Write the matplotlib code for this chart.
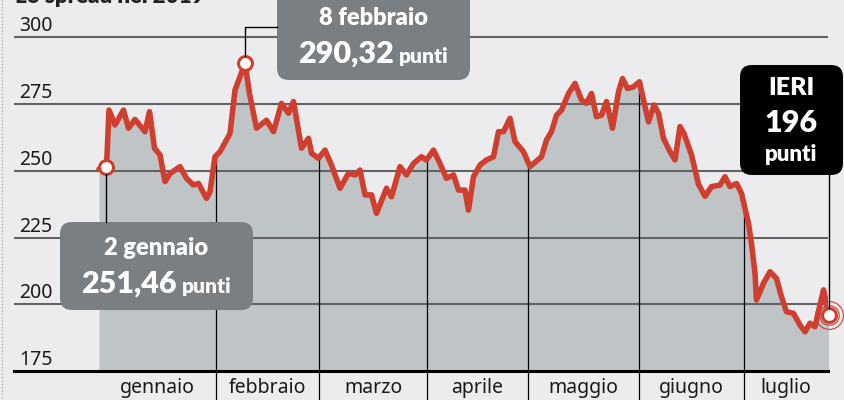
import matplotlib
matplotlib.use('Agg')
import matplotlib.pyplot as plt
from matplotlib.patches import FancyBboxPatch

# ---------------- data ----------------
sessions = [0, 1.5, 2, 3.2, 4.9, 5.9, 7.2, 9.2, 10.1, 11.1, 12.2, 13.2, 14.2, 16.2, 17.5,
            18.9, 19.9, 21.5, 22.2, 23.2, 24.2, 26.2, 27.2, 29.2, 30.1, 31.5, 33.5, 34.9,
            36.5, 37.9, 38.9, 40.5, 41.9, 42.5, 43.9, 45.2, 46.5, 48.2, 49.9, 51.2, 52.2,
            53.2, 54.5, 55.5, 57.5, 58.5, 60.2, 61.5, 62.9, 64.5, 65.5, 66.9, 68.2, 69.5,
            70.9, 71.9, 73.2, 73.9, 74.9, 76.2, 77.5, 78.9, 79.9, 80.9, 82.2, 83.2, 84.9,
            86.2, 88.5, 89.5, 90.5, 91.5, 92.5, 93.9, 95.2, 96.5, 97.5, 98.5, 99.5, 100.5,
            101.5, 102.7, 103.9, 104.7, 105.7, 106.9, 108.1, 108.9, 109.9, 111, 111.9,
            112.9, 114.2, 115.2, 116.2, 117, 118.5, 119.9, 121.2, 122.5, 124.2, 125.2,
            126.2, 127.5, 128.5, 129.9, 130.5, 131.2, 131.5, 132.9, 134.2, 135.5, 136.5,
            137.5, 138.9, 140.2, 141.2, 142.2, 143.2, 144.9, 146]
spread = [250.7, 251.46, 272.8, 267.2, 272.8, 266, 269.3, 264.7, 272.2, 258.5, 256, 246,
          249, 251.6, 247.2, 244.7, 245.3, 239.7, 242.2, 255.3, 257.2, 264, 280.3, 290.32,
          279, 266, 269, 264.7, 275.3, 271.6, 276, 258.5, 262.2, 256.6, 254.7, 257.8, 252.2,
          243.5, 249.1, 248.5, 250.3, 241, 241, 234.1, 243.5, 240.3, 251.6, 248.5, 252.8,
          255.3, 254.1, 257.8, 252.8, 247.2, 248.5, 242.8, 242.8, 235.3, 247.8, 252.2,
          254.1, 255.3, 264.7, 264.7, 269.7, 261, 257.2, 251.6, 255.3, 261.6, 264.7, 270.9,
          272.8, 279, 282.8, 276.6, 275.3, 279, 270.3, 270.9, 276, 266, 279.6, 284.6, 280.9,
          281.5, 283.4, 276.6, 268.4, 274.7, 271.6, 262.2, 257.2, 254.1, 266.6, 264, 256,
          245, 240.5, 244.1, 244.7, 247.8, 244.1, 245.3, 241.6, 230.3, 222.8, 211.6, 201.6,
          207.9, 212.2, 209.7, 202.8, 197.2, 196.6, 192.2, 189.7, 192.9, 191.6, 205.4, 196]
month_names = ['gennaio', 'febbraio', 'marzo', 'aprile', 'maggio', 'giugno', 'luglio']
month_edges = [0, 23.4, 44, 65.6, 85.8, 108, 129, 145.8]
y_ticks = [175, 200, 225, 250, 275, 300]

# ---------------- style ----------------
BG = '#ececee'
FILL = '#bfc4c6'
RED = '#cf3f30'
GRID = '#636363'
BOXGRAY = '#7a7f84'
REG = ['Noto Sans', 'DejaVu Sans']
BF = ['Lato', 'DejaVu Sans']
BW = 'heavy'

W, H = 844, 400
fig = plt.figure(figsize=(W / 100, H / 100), dpi=100, facecolor=BG)
ax = fig.add_axes([14 / W, 29 / H, 814 / W, 371 / H])
ax.set_facecolor('none')
ax.set_xlim(-17, 145.8)
ax.set_ylim(175, 314.05)
ax.axis('off')

fill = ax.fill_between(sessions, spread, 175, color=FILL, lw=0, zorder=1)

for t in y_ticks[1:]:
    ax.axhline(t, color=GRID, lw=1.5, zorder=2)
ax.axhline(175, color='black', lw=2.2, zorder=3, clip_on=False)

vl = ax.vlines(month_edges[1:-1], 175, 314, color='black', lw=0.9, zorder=2.5)
vl.set_clip_path(fill.get_paths()[0], ax.transData)
ax.vlines(month_edges[1:-1], -29 / 371, 0, transform=ax.get_xaxis_transform(),
          color='black', lw=0.9, clip_on=False, zorder=2.5)

for t in y_ticks:
    ax.annotate(str(t), xy=(0, t), xycoords=('axes fraction', 'data'),
                xytext=(5, 6), textcoords='offset pixels', ha='left', va='baseline',
                fontsize=14, color='#1a1a1a', family=REG)

for i, name in enumerate(month_names):
    cx = (month_edges[i] + month_edges[i + 1]) / 2
    ax.annotate(name, xy=(cx, 175), xycoords='data', xytext=(0, -22),
                textcoords='offset pixels', ha='center', va='baseline',
                fontsize=14, color='#1a1a1a', family=REG, annotation_clip=False)

ax.plot(sessions, spread, color=RED, lw=4.0, solid_joinstyle='round',
        solid_capstyle='round', zorder=4)

i_peak = spread.index(max(spread))
for i in (1, i_peak, len(spread) - 1):
    ax.plot(sessions[i], spread[i], 'o', ms=10, mfc='white', mec=RED, mew=2.2,
            zorder=6, clip_on=False)
for ms in (14, 20):
    ax.plot(sessions[-1], spread[-1], 'o', ms=ms, mfc='none', mec=RED, mew=0.8,
            zorder=5, clip_on=False)

# ---------------- overlay (pixel space) ----------------
ov = fig.add_axes([0, 0, 1, 1], zorder=10)
ov.set_xlim(0, W)
ov.set_ylim(H, 0)
ov.axis('off')
ov.patch.set_alpha(0)


def to_ov(x, y):
    return ov.transData.inverted().transform(ax.transData.transform((x, y)))


# title (cut off at top, as in the reference)
ov.text(15, 3, 'Lo spread nel 2019', fontsize=16, fontweight=BW, color='#222222',
        ha='left', va='baseline', family=BF)
# dotted left border
ov.plot([1.5, 1.5], [0, H], color='#9a9a9a', lw=0.8, ls=(0, (1, 2)))

# boxes
ov.add_patch(FancyBboxPatch((277, -14), 193, 94, boxstyle='round,pad=0,rounding_size=12',
                            fc=BOXGRAY, ec='none'))
ov.add_patch(FancyBboxPatch((60, 222), 193, 88, boxstyle='round,pad=0,rounding_size=12',
                            fc=BOXGRAY, ec='none'))
ov.add_patch(FancyBboxPatch((740, 65), 103, 110, boxstyle='round,pad=0,rounding_size=12',
                            fc='black', ec='none'))

# connectors
px, py = to_ov(sessions[i_peak], spread[i_peak])
ov.plot([px, px, 277], [py - 7, 27, 27], color='black', lw=1, zorder=1)
px, py = to_ov(sessions[1], spread[1])
ov.plot([px, px], [py + 7, 222], color='black', lw=1, zorder=1)
px, py = to_ov(sessions[-1], spread[-1])
ov.plot([px, px], [py - 7, 175], color='black', lw=1, zorder=1)

renderer = fig.canvas.get_renderer()


def two_part(cx, by, big, small, fs_big, fs_small, gap=5):
    t1 = ov.text(0, by, big, fontsize=fs_big, fontweight=BW, color='white',
                 ha='left', va='baseline', family=BF)
    t2 = ov.text(0, by, small, fontsize=fs_small, fontweight=BW, color='white',
                 ha='left', va='baseline', family=BF)
    w1 = t1.get_window_extent(renderer).width
    w2 = t2.get_window_extent(renderer).width
    x0 = cx - (w1 + gap + w2) / 2
    t1.set_x(x0)
    t2.set_x(x0 + w1 + gap)


ov.text(373.5, 25, '8 febbraio', fontsize=17, fontweight=BW, color='white',
        ha='center', va='baseline', family=BF)
two_part(373.5, 63, '290,32', 'punti', 22, 15)
ov.text(156.5, 255, '2 gennaio', fontsize=17, fontweight=BW, color='white',
        ha='center', va='baseline', family=BF)
two_part(156.5, 293, '251,46', 'punti', 22, 15)
ov.text(791.5, 95, 'IERI', fontsize=18, fontweight=BW, color='white',
        ha='center', va='baseline', family=BF)
ov.text(791.5, 132, '196', fontsize=22, fontweight=BW, color='white',
        ha='center', va='baseline', family=BF)
ov.text(791.5, 161, 'punti', fontsize=16, fontweight=BW, color='white',
        ha='center', va='baseline', family=BF)

fig.savefig('out.png', dpi=100, facecolor=BG)
